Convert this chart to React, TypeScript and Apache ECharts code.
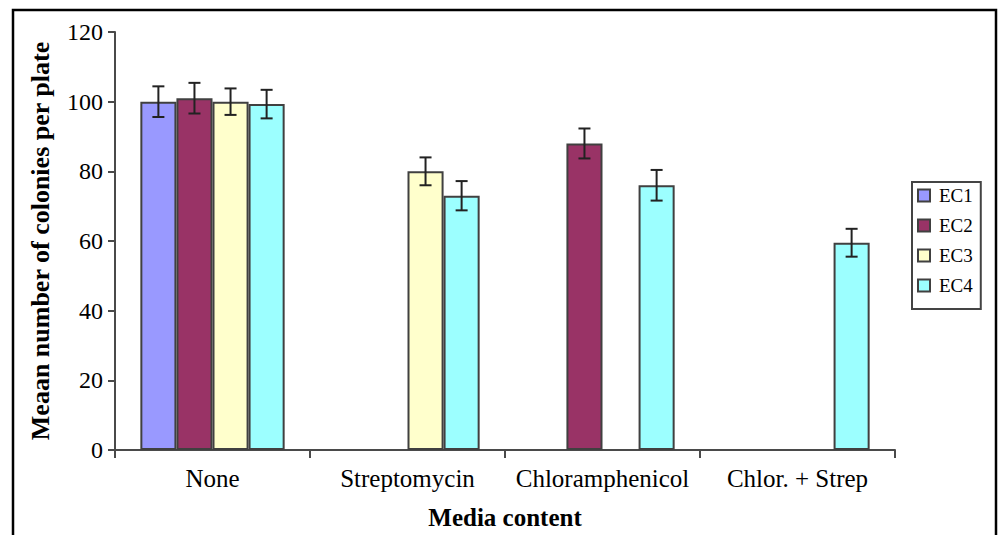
import React, { useEffect, useRef } from "react";
import * as echarts from "echarts";

const categories = ["None", "Streptomycin", "Chloramphenicol", "Chlor. + Strep"];
const seriesNames = ["EC1", "EC2", "EC3", "EC4"];
const ec1 = [100, null, null, null];
const ec2 = [101, null, 88, null];
const ec3 = [100, 80, null, null];
const ec4 = [99.3, 73, 76, 59.5];
const err1 = [4.4, null, null, null];
const err2 = [4.4, null, 4.3, null];
const err3 = [3.8, 4, null, null];
const err4 = [4.1, 4.2, 4.4, 4];
const yTicks = [0, 20, 40, 60, 80, 100, 120];
const colors = ["#9999FF", "#993366", "#FFFFCC", "#9CFFFF"];

const FONT = "'Liberation Serif', 'Times New Roman', serif";
const CAT_GAP = 0.26;

export default function App() {
  const ref = useRef<HTMLDivElement>(null);
  useEffect(() => {
    if (!ref.current) return;
    const chart = echarts.init(ref.current, null, { renderer: "svg" });
    const values = [ec1, ec2, ec3, ec4];
    const errs = [err1, err2, err3, err4];
    const errData: any[] = [];
    values.forEach((vals, s) => {
      vals.forEach((v, c) => {
        const e = errs[s][c];
        if (v != null && e != null) errData.push([c, v - e, v + e, s]);
      });
    });
    const barSeries = values.map((vals, i) => ({
      name: seriesNames[i],
      type: "bar",
      data: vals,
      barGap: "0%",
      barCategoryGap: CAT_GAP * 100 + "%",
      itemStyle: { color: colors[i], borderColor: "#404040", borderWidth: 2 },
      z: 2,
    }));
    const option: any = {
      animation: false,
      grid: { left: 115, right: 105, top: 32, bottom: 83 },
      graphic: [
        {
          type: "rect",
          shape: { x: 13, y: 10, width: 983, height: 560 },
          style: { fill: "none", stroke: "#000", lineWidth: 2.5 },
          silent: true,
        },
      ],
      legend: {
        orient: "vertical",
        left: 912,
        top: 182,
        padding: [4, 8, 14, 5],
        itemWidth: 12,
        itemHeight: 12,
        itemGap: 11,
        borderColor: "#444",
        borderWidth: 2,
        icon: "rect",
        textStyle: { fontFamily: FONT, fontSize: 19, color: "#000", lineHeight: 18, padding: [0, 0, 0, 4] },
        data: seriesNames,
      },
      xAxis: {
        type: "category",
        data: categories,
        name: "Media content",
        nameLocation: "middle",
        nameGap: 55,
        nameTextStyle: { fontFamily: FONT, fontSize: 25, fontWeight: "bold", color: "#000" },
        axisLine: { lineStyle: { color: "#4a4a4a", width: 2 } },
        axisTick: { show: true, length: 8, lineStyle: { color: "#4a4a4a", width: 2 } },
        axisLabel: { fontFamily: FONT, fontSize: 25, color: "#000", margin: 16, interval: 0 },
      },
      yAxis: {
        type: "value",
        min: 0,
        max: 120,
        interval: 20,
        name: "Meaan number of colonies per plate",
        nameLocation: "middle",
        nameGap: 62,
        nameTextStyle: { fontFamily: FONT, fontSize: 26, fontWeight: "bold", color: "#000" },
        splitLine: { show: false },
        axisLine: { show: true, lineStyle: { color: "#4a4a4a", width: 2 } },
        axisTick: { show: true, length: 7, lineStyle: { color: "#4a4a4a", width: 2 } },
        axisLabel: {
          fontFamily: FONT,
          fontSize: 24,
          color: "#000",
          margin: 12,
          formatter: (v: number) => (yTicks.includes(v) ? String(v) : ""),
        },
      },
      series: [
        ...barSeries,
        {
          type: "custom",
          name: "err",
          data: errData,
          z: 5,
          silent: true,
          encode: { x: 0, y: [1, 2] },
          renderItem: (params: any, api: any) => {
            const c = api.value(0);
            const lo = api.coord([c, api.value(1)]);
            const hi = api.coord([c, api.value(2)]);
            const s = api.value(3);
            const band = api.size([1, 0])[0];
            const used = band * (1 - CAT_GAP);
            const bw = used / 4;
            const x = lo[0] - used / 2 + (s + 0.5) * bw;
            const hw = 6;
            const style = { stroke: "#222", lineWidth: 2 };
            return {
              type: "group",
              children: [
                { type: "line", shape: { x1: x, y1: hi[1], x2: x, y2: lo[1] }, style },
                { type: "line", shape: { x1: x - hw, y1: hi[1], x2: x + hw, y2: hi[1] }, style },
                { type: "line", shape: { x1: x - hw, y1: lo[1], x2: x + hw, y2: lo[1] }, style },
              ],
            };
          },
        },
      ],
    };
    chart.setOption(option);
    return () => chart.dispose();
  }, []);
  return (
    <div
      ref={ref}
      style={{ position: "absolute", left: 0, top: 0, width: 1000, height: 535, background: "#fff" }}
    />
  );
}
